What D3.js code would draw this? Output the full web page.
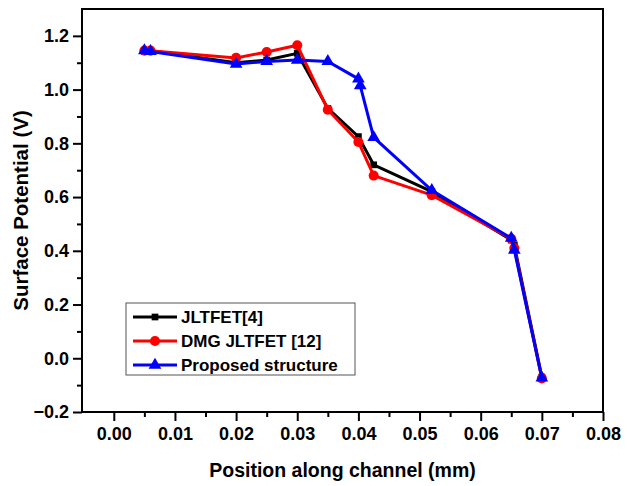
<!DOCTYPE html>
<html>
<head>
<meta charset="utf-8">
<script src="https://cdn.jsdelivr.net/npm/d3@7"></script>
<style>
  body { margin: 0; background: #fff; }
  text { font-family: "Liberation Sans", Arial, sans-serif; font-weight: bold; }
</style>
</head>
<body>
<div id="chart"></div>
<script>
// ---------- data ----------
const seriesNames = ["JLTFET[4]", "DMG JLTFET [12]", "Proposed structure"];
const seriesColors = ["#000000", "#ff0000", "#0000ff"];

const jltfetX = [0.005, 0.006, 0.02, 0.025, 0.03, 0.035, 0.04, 0.0425, 0.052, 0.065, 0.0655, 0.07];
const jltfetY = [1.145, 1.145, 1.10, 1.11, 1.135, 0.93, 0.825, 0.72, 0.62, 0.44, 0.42, -0.07];

const dmgX = [0.005, 0.006, 0.02, 0.025, 0.03, 0.035, 0.04, 0.0425, 0.052, 0.065, 0.0655, 0.07];
const dmgY = [1.145, 1.145, 1.118, 1.14, 1.165, 0.925, 0.805, 0.68, 0.607, 0.445, 0.41, -0.075];

const propX = [0.005, 0.006, 0.02, 0.025, 0.03, 0.035, 0.04, 0.0403, 0.0425, 0.052, 0.065, 0.0655, 0.07];
const propY = [1.145, 1.142, 1.095, 1.105, 1.11, 1.105, 1.04, 1.015, 0.822, 0.625, 0.447, 0.403, -0.073];

const xTicks = [0, 0.01, 0.02, 0.03, 0.04, 0.05, 0.06, 0.07, 0.08];
const yTicks = [-0.2, 0, 0.2, 0.4, 0.6, 0.8, 1.0, 1.2];

// ---------- layout ----------
const width = 632;
const height = 486;
const margin = { top: 9, right: 29, bottom: 74, left: 82 };

const svg = d3.select("#chart")
  .append("svg")
  .attr("width", width)
  .attr("height", height);

const x = d3.scaleLinear()
  .domain([-0.0052, 0.08])
  .range([margin.left, width - margin.right]);

const y = d3.scaleLinear()
  .domain([-0.2, 1.3])
  .range([height - margin.bottom, margin.top]);

// x axis with minor ticks
svg.append("g")
  .attr("transform", `translate(0,${height - margin.bottom})`)
  .call(d3.axisBottom(x).tickValues(d3.range(0.005, 0.08, 0.01)).tickSize(5).tickFormat(""))
  .call(g => g.select(".domain").remove())
  .selectAll("line").attr("stroke-width", 2);

svg.append("g")
  .attr("transform", `translate(0,${height - margin.bottom})`)
  .call(d3.axisBottom(x).tickValues(xTicks).tickSize(9).tickPadding(6).tickFormat(d3.format(".2f")))
  .call(g => g.select(".domain").remove())
  .call(g => g.selectAll("line").attr("stroke-width", 2))
  .call(g => g.selectAll("text").attr("font-size", 18).attr("fill", "#000"));

// y axis with minor ticks
svg.append("g")
  .attr("transform", `translate(${margin.left},0)`)
  .call(d3.axisLeft(y).tickValues(d3.range(-0.1, 1.3, 0.2)).tickSize(5).tickFormat(""))
  .call(g => g.select(".domain").remove())
  .selectAll("line").attr("stroke-width", 2);

svg.append("g")
  .attr("transform", `translate(${margin.left},0)`)
  .call(d3.axisLeft(y).tickValues(yTicks).tickSize(9).tickPadding(4).tickFormat(d3.format(".1f")))
  .call(g => g.select(".domain").remove())
  .call(g => g.selectAll("line").attr("stroke-width", 2))
  .call(g => g.selectAll("text").attr("font-size", 18).attr("fill", "#000"));

// frame
svg.append("rect")
  .attr("x", margin.left)
  .attr("y", margin.top)
  .attr("width", width - margin.left - margin.right)
  .attr("height", height - margin.top - margin.bottom)
  .attr("fill", "none")
  .attr("stroke", "#000")
  .attr("stroke-width", 2);

// axis titles
svg.append("text")
  .attr("x", (margin.left + width - margin.right) / 2)
  .attr("y", 477)
  .attr("text-anchor", "middle")
  .attr("font-size", 19.5)
  .text("Position along channel (mm)");

svg.append("text")
  .attr("transform", `translate(28,${(margin.top + height - margin.bottom) / 2}) rotate(-90)`)
  .attr("text-anchor", "middle")
  .attr("font-size", 20.5)
  .text("Surface Potential (V)");

// ---------- series ----------
const series = [
  { xs: jltfetX, ys: jltfetY, symbol: d3.symbolSquare, size: 45 },
  { xs: dmgX, ys: dmgY, symbol: d3.symbolCircle, size: 80 },
  { xs: propX, ys: propY, symbol: d3.symbolTriangle, size: 70 }
];

const line = d3.line()
  .x(d => x(d[0]))
  .y(d => y(d[1]));

series.forEach((s, i) => {
  const pts = s.xs.map((v, j) => [v, s.ys[j]]);
  const g = svg.append("g");
  g.append("path")
    .datum(pts)
    .attr("d", line)
    .attr("fill", "none")
    .attr("stroke", seriesColors[i])
    .attr("stroke-width", 3);
  g.selectAll("path.marker")
    .data(pts)
    .enter()
    .append("path")
    .attr("class", "marker")
    .attr("transform", d => `translate(${x(d[0])},${y(d[1])})`)
    .attr("d", d3.symbol().type(s.symbol).size(s.size))
    .attr("fill", seriesColors[i]);
});

// ---------- legend ----------
const legend = svg.append("g").attr("transform", "translate(126,303)");
legend.append("rect")
  .attr("width", 229)
  .attr("height", 72)
  .attr("fill", "#fff")
  .attr("stroke", "#555")
  .attr("stroke-width", 1);

seriesNames.forEach((name, i) => {
  const ly = 14 + i * 24;
  legend.append("line")
    .attr("x1", 7).attr("x2", 51)
    .attr("y1", ly).attr("y2", ly)
    .attr("stroke", seriesColors[i])
    .attr("stroke-width", 3);
  legend.append("path")
    .attr("transform", `translate(29,${ly})`)
    .attr("d", d3.symbol().type(series[i].symbol).size(series[i].size))
    .attr("fill", seriesColors[i]);
  legend.append("text")
    .attr("x", 55)
    .attr("y", ly + 6)
    .attr("font-size", 17)
    .text(name);
});
</script>
</body>
</html>
